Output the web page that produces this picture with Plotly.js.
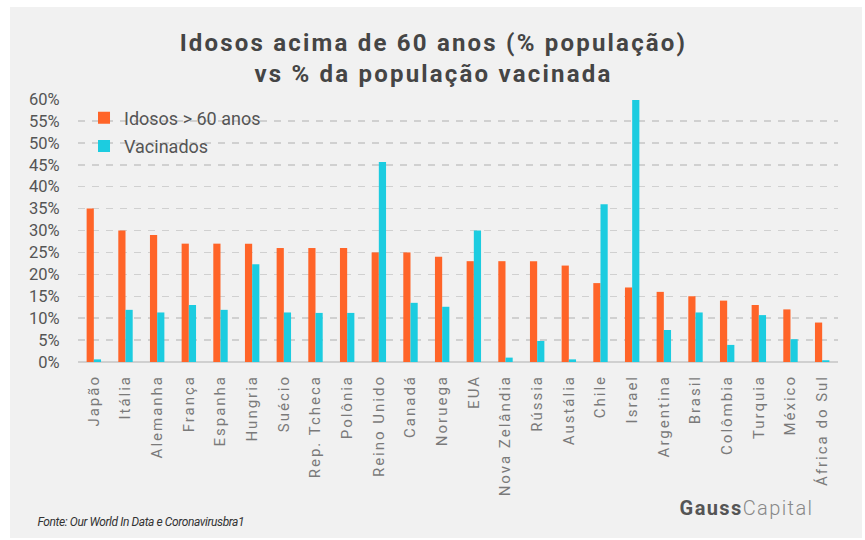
<!DOCTYPE html>
<html>
<head>
<meta charset="utf-8">
<script src="https://cdn.plot.ly/plotly-3.0.1.min.js"></script>
<style>
html,body{margin:0;padding:0;background:#ffffff;}
#chart{position:absolute;left:10px;top:7px;width:852px;height:531px;}
#chart .gtitle{letter-spacing:2.2px;}
#chart .xtick text{letter-spacing:2px;}
#chart .annotation[data-index="0"] text{letter-spacing:-0.4px;}
#chart .annotation[data-index="1"] text{letter-spacing:1.4px;}
</style>
</head>
<body>
<div id="chart"></div>
<script>
const paises = ["Japão","Itália","Alemanha","França","Espanha","Hungria","Suécio","Rep. Tcheca","Polônia","Reino Unido","Canadá","Noruega","EUA","Nova Zelândia","Rússia","Austália","Chile","Israel","Argentina","Brasil","Colômbia","Turquia","México","África do Sul"];
const idosos = [35,30,29,27,27,27,26,26,26,25,25,24,23,23,23,22,18,17,16,15,14,13,12,9];
const vacinados = [0.6,11.9,11.3,13.0,11.9,22.3,11.3,11.2,11.2,45.6,13.5,12.6,30.0,1.0,4.8,0.6,36.0,59.8,7.3,11.3,3.9,10.7,5.2,0.4];
const yTicks = [0,5,10,15,20,25,30,35,40,45,50,55,60];
const yTickText = yTicks.map(v => v + "%");

const data = [
  {type:"bar", name:"Idosos > 60 anos", x:paises, y:idosos, marker:{color:"#ff6428"}, legend:"legend"},
  {type:"bar", name:"Vacinados", x:paises, y:vacinados, marker:{color:"#1ccce0"}, legend:"legend2"}
];

const layout = {
  width:852, height:531,
  paper_bgcolor:"#f1f1f1", plot_bgcolor:"#f1f1f1",
  margin:{l:68, r:24, t:92, b:176},
  font:{family:"Roboto, 'Open Sans', sans-serif", color:"#555"},
  title:{text:"<b>Idosos acima de 60 anos (% população)<br>vs % da população vacinada</b>",
    font:{size:24, color:"#454545", family:"Roboto, sans-serif"},
    x:0.497, xanchor:"center", xref:"container", y:0.9175, yanchor:"top", yref:"container"},
  barmode:"group", bargap:0.545, bargroupgap:0,
  xaxis:{tickangle:-90, tickfont:{size:15, color:"#7a7a7a"}, ticks:"outside", ticklen:6, tickcolor:"rgba(0,0,0,0)",
    showline:false, fixedrange:true},
  yaxis:{range:[0,60], tickvals:yTicks, ticktext:yTickText, tickfont:{size:16.5, color:"#555"},
    ticks:"outside", ticklen:14, tickcolor:"rgba(0,0,0,0)",
    showgrid:true, gridcolor:"#d0d0d0", gridwidth:1.5, griddash:"7px,7px",
    zeroline:true, zerolinecolor:"#d0d0d0", zerolinewidth:1.5},
  showlegend:true,
  legend:{x:0.0079, y:0.928, xanchor:"left", yanchor:"middle", bgcolor:"rgba(0,0,0,0)", font:{size:18, color:"#555"}, itemwidth:30},
  legend2:{x:0.0079, y:0.82, xanchor:"left", yanchor:"middle", bgcolor:"rgba(0,0,0,0)", font:{size:18, color:"#555"}, itemwidth:30},
  annotations:[
    {text:"<i>Fonte: Our World In Data e Coronavirusbra1</i>", xref:"paper", yref:"paper", x:-0.0676, y:-0.608,
      xanchor:"left", yanchor:"middle", showarrow:false, font:{size:12, color:"#333"}},
    {text:"<b>Gauss</b><span style='font-weight:300;color:#888'>Capital</span>", xref:"paper", yref:"paper", x:0.8004, y:-0.555,
      xanchor:"left", yanchor:"middle", showarrow:false, font:{size:20, color:"#555"}}
  ]
};

Plotly.newPlot("chart", data, layout, {displayModeBar:false, staticPlot:true});
</script>
</body>
</html>
